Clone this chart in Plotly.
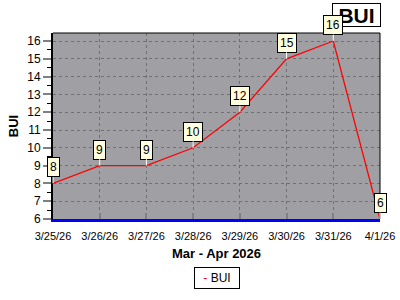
import plotly.graph_objects as go

dates = ["2026-03-25", "2026-03-26", "2026-03-27", "2026-03-28",
         "2026-03-29", "2026-03-30", "2026-03-31", "2026-04-01"]
bui = [8, 9, 9, 10, 12, 15, 16, 6]
y_ticks = [6, 7, 8, 9, 10, 11, 12, 13, 14, 15, 16]

FONT = "Arial, Liberation Sans, sans-serif"

fig = go.Figure()
fig.add_trace(go.Scatter(x=dates, y=bui, mode="lines", name="BUI",
                         line=dict(color="#ff0000", width=1.3), showlegend=False))

# title box (drawn first so the value labels sit above it)
fig.add_annotation(xref="paper", yref="paper", x=1.0, y=1.0, xanchor="right",
                   yanchor="bottom", xshift=1, yshift=6,
                   text="<b>BUI</b>", showarrow=False, bgcolor="white",
                   bordercolor="black", borderwidth=1, borderpad=0,
                   font=dict(family=FONT, size=21, color="black"), width=47, height=22)

for d, v in zip(dates, bui):
    fig.add_annotation(x=d, y=v, text=str(v), showarrow=True, arrowhead=0,
                       arrowcolor="white", arrowwidth=1, ax=0, ay=-16,
                       bgcolor="#ffffe0", bordercolor="black", borderwidth=1,
                       borderpad=2, font=dict(family=FONT, size=12, color="black"))

# legend-like box
fig.add_annotation(xref="paper", yref="paper", x=0.5, y=0, xanchor="center",
                   yanchor="top", yshift=-48,
                   text="<span style='color:#ff0000'>-</span> BUI", showarrow=False,
                   bgcolor="white", bordercolor="black", borderwidth=1, borderpad=3,
                   font=dict(family=FONT, size=12, color="black"), width=38)

fig.update_layout(
    width=400, height=300,
    margin=dict(l=53, r=20, t=33, b=81, autoexpand=False),
    paper_bgcolor="white", plot_bgcolor="#a0a0a4",
    font=dict(family=FONT, size=11, color="black"),
    shapes=[
        dict(type="line", xref="paper", yref="paper", x0=0, x1=1, y0=1, y1=1,
             line=dict(color="black", width=1), layer="above"),
        dict(type="line", xref="paper", yref="paper", x0=1, x1=1, y0=0, y1=1,
             line=dict(color="black", width=1), layer="above"),
    ],
)
fig.update_xaxes(
    type="date", range=[dates[0], dates[-1]], tickvals=dates, automargin=False,
    tickformat="%-m/%-d/%y", ticks="inside", ticklen=6, tickwidth=2,
    tickcolor="#808080", showgrid=True, gridcolor="#707070", griddash="dot",
    gridwidth=1, showline=True, linecolor="#0000ff", linewidth=3,
    ticklabelstandoff=5,
    title=dict(text="<b>Mar - Apr 2026</b>", font=dict(size=13), standoff=8),
    tickfont=dict(size=11), zeroline=False,
)
fig.update_yaxes(
    range=[6, 16.45], tickvals=y_ticks, ticks="outside", ticklen=8, tickwidth=2,
    tickcolor="#808080", showgrid=True, gridcolor="#707070", griddash="dot",
    gridwidth=1, showline=True, linecolor="black", linewidth=2, automargin=False,
    minor=dict(dtick=0.5, ticks="outside", ticklen=4, tickcolor="black", tickwidth=1,
               showgrid=False),
    title=dict(text="<b>BUI</b>", font=dict(size=13), standoff=6),
    tickfont=dict(size=12), zeroline=False,
)

fig.write_html("out.html")
